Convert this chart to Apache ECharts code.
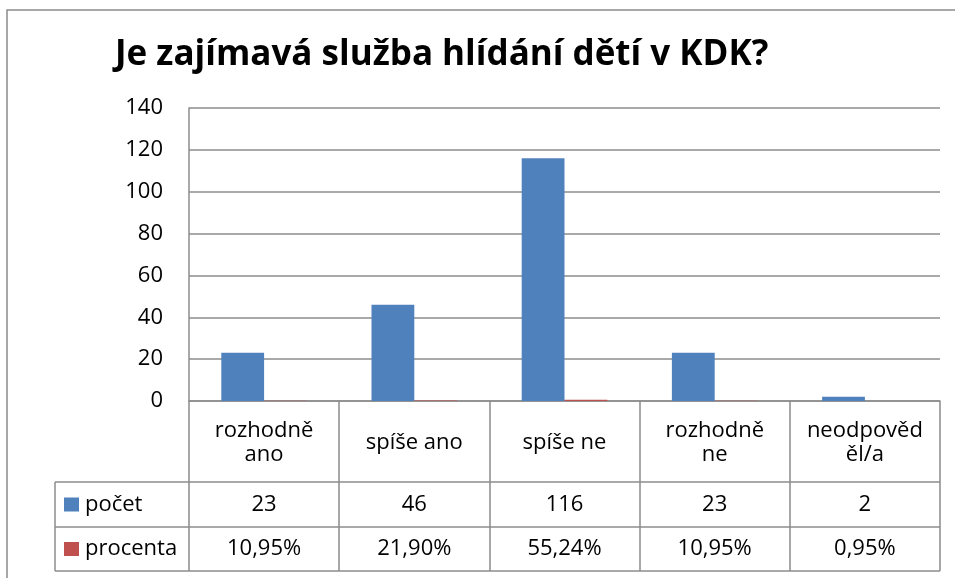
<!DOCTYPE html>
<html>
<head>
<meta charset="utf-8">
<script src="https://cdn.jsdelivr.net/npm/echarts@6/dist/echarts.min.js"></script>
<style>
  html, body { margin: 0; padding: 0; background: #fff; }
  #chart { width: 955px; height: 578px; }
</style>
</head>
<body>
<div id="chart"></div>
<script>
var categories = ['rozhodně\nano', 'spíše ano', 'spíše ne', 'rozhodně\nne', 'neodpověd\něl/a'];
var pocet = [23, 46, 116, 23, 2];
var procenta = [0.1095, 0.2190, 0.5524, 0.1095, 0.0095];
var procentaText = ['10,95%', '21,90%', '55,24%', '10,95%', '0,95%'];
var seriesNames = ['počet', 'procenta'];
var colors = ['#4F81BD', '#C0504D'];

var FONT = 'Open Sans';
var FS = 22;
var lineCol = '#8c8c8c';
// grid edges
var gl = 189, gt = 108, gr = 940, gb = 401;
// table rows
var row1 = 482, row2 = 527, row3 = 571, tableLeft = 55;

var myChart = echarts.init(document.getElementById('chart'));

var option = {
    animation: false,
    title: {
        text: 'Je zajímavá služba hlídání dětí v KDK?',
        left: 110,
        top: 33,
        textStyle: { fontFamily: FONT, fontSize: 35, fontWeight: 'bold', color: '#000' }
    },
    grid: { left: gl, top: gt, right: 955 - gr, bottom: 578 - gb },
    xAxis: {
        type: 'category',
        data: categories,
        axisLine: { lineStyle: { color: lineCol, width: 1.5 } },
        axisTick: { show: true, interval: 0, length: row3 - gb, lineStyle: { color: lineCol, width: 1.5 } },
        axisLabel: {
            interval: 0, margin: 42, verticalAlign: 'middle', lineHeight: 24,
            fontFamily: FONT, fontSize: FS, color: '#000'
        }
    },
    yAxis: {
        type: 'value',
        min: 0, max: 140, interval: 20,
        axisLine: { show: true, lineStyle: { color: lineCol, width: 1.5 } },
        axisTick: { show: false },
        axisLabel: { margin: 26, fontFamily: FONT, fontSize: FS, color: '#000' },
        splitLine: { lineStyle: { color: lineCol, width: 1.5 } }
    },
    series: [
        { name: seriesNames[0], type: 'bar', data: pocet, barGap: '0%', barCategoryGap: '43%', itemStyle: { color: colors[0] } },
        { name: seriesNames[1], type: 'bar', data: procenta, barGap: '0%', barCategoryGap: '43%', itemStyle: { color: colors[1] } }
    ]
};
myChart.setOption(option);

// data table drawn below the axis
var g = [];
g.push({ type: 'rect', shape: { x: 7, y: 10, width: 1000, height: 600 }, style: { fill: 'none', stroke: '#8c8c8c', lineWidth: 1.5 }, silent: true });
[row1, row2, row3].forEach(function (y) {
    g.push({ type: 'line', shape: { x1: tableLeft, y1: y, x2: gr, y2: y }, style: { stroke: lineCol, lineWidth: 1.5 } });
});
g.push({ type: 'line', shape: { x1: tableLeft, y1: row1, x2: tableLeft, y2: row3 }, style: { stroke: lineCol, lineWidth: 1.5 } });

var rows = [[pocet.map(String), (row1 + row2) / 2], [procentaText, (row2 + row3) / 2]];
rows.forEach(function (r, ri) {
    g.push({ type: 'rect', shape: { x: 64, y: r[1] - 7, width: 15, height: 14 }, style: { fill: colors[ri] } });
    g.push({ type: 'text', x: 85, y: r[1], style: { text: seriesNames[ri], font: FS + 'px "' + FONT + '"', fill: '#000', textVerticalAlign: 'middle' } });
    r[0].forEach(function (t, i) {
        var px = myChart.convertToPixel({ xAxisIndex: 0 }, categories[i]);
        g.push({ type: 'text', x: px, y: r[1], style: { text: t, font: FS + 'px "' + FONT + '"', fill: '#000', textAlign: 'center', textVerticalAlign: 'middle' } });
    });
});
myChart.setOption({ graphic: g });
</script>
</body>
</html>
